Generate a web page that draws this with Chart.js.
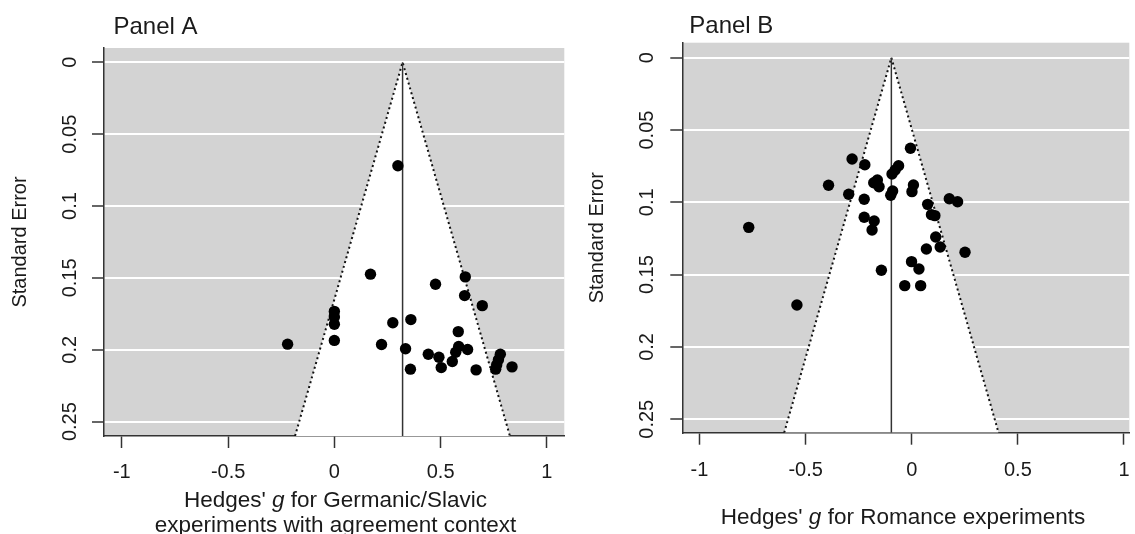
<!DOCTYPE html>
<html><head><meta charset="utf-8">
<script src="https://cdn.jsdelivr.net/npm/chart.js@4.4.1/dist/chart.umd.min.js"></script>
<style>
html,body{margin:0;padding:0;background:#fff;}
#wrap{position:relative;width:1135px;height:534px;overflow:hidden;background:#fff;}
.pan{position:absolute;top:0;}
</style></head><body>
<div id="wrap">
  <canvas id="cA" class="pan" style="left:0" width="570" height="534"></canvas>
  <canvas id="cB" class="pan" style="left:570px" width="565" height="534"></canvas>
</div>
<script>
const FONT = "'Liberation Sans', Arial, Helvetica, sans-serif";

// ---- tick labels ----
const xTicks = [-1, -0.5, 0, 0.5, 1];
const yTicks = [0, 0.05, 0.1, 0.15, 0.2, 0.25];
const yTickLabels = ['0', '0.05', '0.1', '0.15', '0.2', '0.25'];

// ---- texts ----
const panelTitles = ['Panel A', 'Panel B'];
const yTitle = 'Standard Error';
const xTitleA = [
  [["Hedges' ", false], ['g', true], [' for Germanic/Slavic', false]],
  [['experiments with agreement context', false]]
];
const xTitleB = [
  [["Hedges' ", false], ['g', true], [' for Romance experiments', false]]
];

// ---- Panel A data (Hedges' g, standard error) ----
const gA = [0.299, 0.170, 0.616, 0.476, 0.613, 0.696, 0.000, 0.000, 0.000, 0.275,
            0.360, 0.583, 0.000, -0.220, 0.222, 0.335, 0.585, 0.627, 0.571, 0.442,
            0.492, 0.555, 0.503, 0.358, 0.667, 0.781, 0.772, 0.764, 0.759, 0.836];
const seA = [0.0720, 0.1474, 0.1493, 0.1544, 0.1623, 0.1693, 0.1733, 0.1772, 0.1823, 0.1812,
             0.1790, 0.1874, 0.1935, 0.1961, 0.1963, 0.1993, 0.1977, 0.1998, 0.2017, 0.2031,
             0.2052, 0.2082, 0.2124, 0.2135, 0.2140, 0.2031, 0.2070, 0.2105, 0.2135, 0.2119];
const estA = 0.321;
const funnelGA = [-0.185, 0.321, 0.826];
const funnelSEA = [0.26, 0, 0.26];

// ---- Panel B data ----
const gB = [-0.006, -0.281, -0.221, -0.062, -0.078, -0.093, -0.162, -0.179, -0.154, -0.392,
            0.008, 0.001, -0.090, -0.099, -0.297, -0.224, 0.177, 0.216, 0.075, 0.093,
            0.109, -0.224, -0.177, -0.187, 0.113, 0.134, 0.069, 0.251, -0.001, 0.034,
            -0.143, -0.033, 0.042, -0.541, -0.768];
const seB = [0.0626, 0.0700, 0.0740, 0.0747, 0.0776, 0.0804, 0.0846, 0.0864, 0.0892, 0.0882,
             0.0880, 0.0926, 0.0922, 0.0951, 0.0944, 0.0979, 0.0975, 0.0996, 0.1014, 0.1085,
             0.1092, 0.1103, 0.1129, 0.1191, 0.1240, 0.1309, 0.1323, 0.1345, 0.1410, 0.1461,
             0.1470, 0.1576, 0.1576, 0.1710, 0.1173];
const estB = -0.096;
const funnelGB = [-0.601, -0.096, 0.409];
const funnelSEB = [0.2593, 0, 0.2593];

const TXT = '#1a1a1a';
const AX = '#333333';

const decorPlugin = {
  id: 'decor',
  beforeDraw(chart) {
    const a = chart.chartArea, ctx = chart.ctx;
    ctx.save();
    ctx.fillStyle = '#d3d3d3';
    ctx.fillRect(a.left, a.top, a.right - a.left, a.bottom - a.top);
    ctx.restore();
  },
  afterDraw(chart) {
    const o = chart.options.plugins.decor;
    const ctx = chart.ctx, ys = chart.scales.y, a = chart.chartArea;
    ctx.save();
    ctx.fillStyle = TXT;
    // rotated y tick labels
    ctx.font = '20px ' + FONT;
    ctx.textAlign = 'center';
    ctx.textBaseline = 'middle';
    ys.ticks.forEach((t, i) => {
      const py = ys.getPixelForValue(t.value);
      ctx.save();
      ctx.translate(a.left - o.yLabOff, py);
      ctx.rotate(-Math.PI / 2);
      ctx.fillText(yTickLabels[i], 0, 0);
      ctx.restore();
    });
    // y title
    ctx.font = '20px ' + FONT;
    ctx.save();
    ctx.translate(o.yTitleX, (a.top + a.bottom) / 2);
    ctx.rotate(-Math.PI / 2);
    ctx.fillText(yTitle, 0, 0);
    ctx.restore();
    // panel title
    ctx.font = '24px ' + FONT;
    ctx.textAlign = 'left';
    ctx.textBaseline = 'alphabetic';
    ctx.fillText(o.title, o.titleX, o.titleY);
    // x title with italic g
    const fN = '22.5px ' + FONT, fI = 'italic 22.5px ' + FONT;
    o.xTitle.forEach((line, li) => {
      let w = 0;
      line.forEach(([s, it]) => { ctx.font = it ? fI : fN; w += ctx.measureText(s).width; });
      let x = o.xTitleCX - w / 2;
      line.forEach(([s, it]) => {
        ctx.font = it ? fI : fN;
        ctx.fillText(s, x, o.xTitleY[li]);
        x += ctx.measureText(s).width;
      });
    });
    ctx.restore();
  }
};

function makePanel(id, p) {
  const pts = p.g.map((g, i) => ({ x: g, y: p.se[i] }));
  const funnel = p.fg.map((g, i) => ({ x: g, y: p.fse[i] }));
  const vline = [{ x: p.est, y: 0 }, { x: p.est, y: p.yMax }];
  return new Chart(document.getElementById(id), {
    type: 'scatter',
    data: {
      datasets: [
        { data: pts, pointRadius: 5.7, pointBackgroundColor: '#000', pointBorderWidth: 0, showLine: false },
        { type: 'line', data: vline, borderColor: AX, borderWidth: 1.5, pointRadius: 0, fill: false },
        { type: 'line', data: funnel, borderColor: '#111', borderWidth: 2, borderDash: [2, 3],
          pointRadius: 0, tension: 0, backgroundColor: '#ffffff', fill: { value: p.yMax } }
      ]
    },
    options: {
      responsive: false,
      devicePixelRatio: 1,
      animation: false,
      events: [],
      layout: { padding: { top: p.padTop, right: p.padRight, left: 0, bottom: 0 } },
      plugins: {
        legend: { display: false },
        tooltip: { enabled: false },
        decor: p.decor
      },
      scales: {
        x: {
          type: 'linear', min: p.xMin, max: p.xMax,
          afterFit: s => { s.height = p.xAxisH; s.paddingLeft = 0; s.paddingRight = 0; },
          afterBuildTicks: s => { s.ticks = xTicks.map(v => ({ value: v })); },
          border: { display: true, color: AX, width: 1.5 },
          grid: { drawOnChartArea: false, drawTicks: true, tickLength: 12, tickColor: AX, tickWidth: 1.5 },
          ticks: { color: TXT, font: { family: FONT, size: 20 }, padding: p.tickPad, maxRotation: 0, autoSkip: false,
                   callback: v => String(v) }
        },
        y: {
          type: 'linear', reverse: true, min: p.yMin, max: p.yMax,
          afterFit: s => { s.width = p.yAxisW; s.paddingTop = 0; s.paddingBottom = 0; },
          afterBuildTicks: s => { s.ticks = yTicks.map(v => ({ value: v })); },
          border: { display: true, color: AX, width: 1.5 },
          grid: { color: '#ffffff', lineWidth: 2, drawTicks: true, tickLength: 12, tickColor: AX, tickWidth: 1.5 },
          ticks: { display: false }
        }
      }
    },
    plugins: [decorPlugin]
  });
}

makePanel('cA', {
  g: gA, se: seA, est: estA, fg: funnelGA, fse: funnelSEA,
  xMin: -1.084, xMax: 1.082, yMin: -0.00995, yMax: 0.26,
  padTop: 48, padRight: 3.3, yAxisW: 104, xAxisH: 98, tickPad: 12,
  decor: { yLabOff: 34, yTitleX: 20, title: panelTitles[0], titleX: 113.5, titleY: 34,
           xTitle: xTitleA, xTitleCX: 335.5, xTitleY: [507, 532] }
});

makePanel('cB', {
  g: gB, se: seB, est: estB, fg: funnelGB, fse: funnelSEB,
  xMin: -1.081, xMax: 1.025, yMin: -0.0104, yMax: 0.2593,
  padTop: 42.7, padRight: 0, yAxisW: 112.3, xAxisH: 101.3, tickPad: 14,
  decor: { yLabOff: 35, yTitleX: 27, title: panelTitles[1], titleX: 119.3, titleY: 32.7,
           xTitle: xTitleB, xTitleCX: 333, xTitleY: [524] }
});
</script>
</body></html>
